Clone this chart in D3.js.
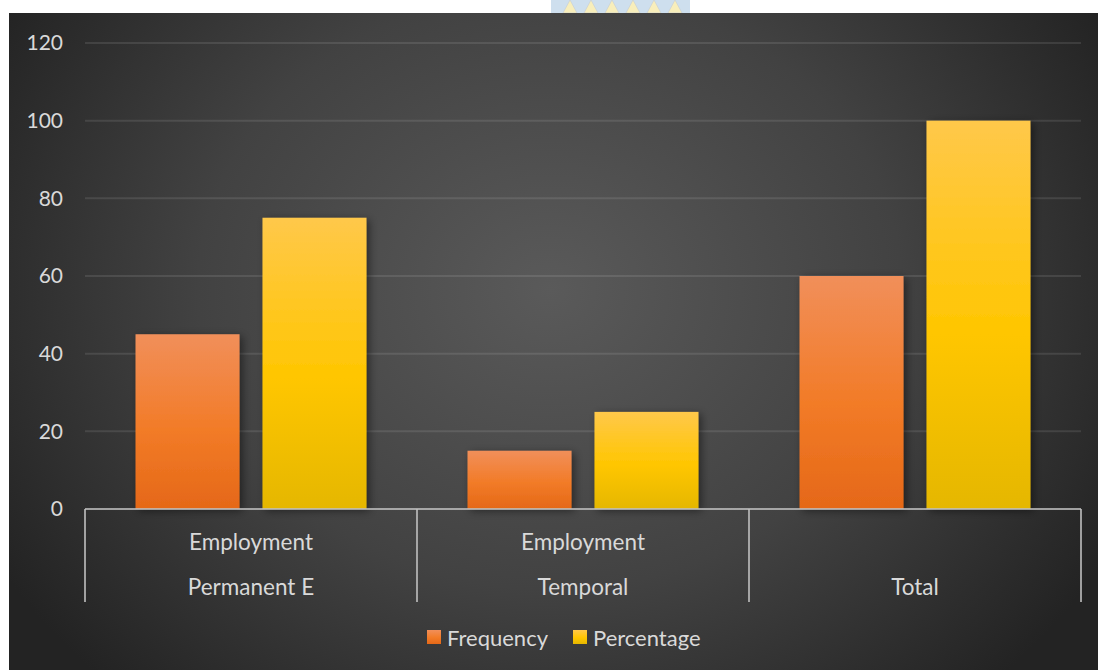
<!DOCTYPE html>
<html>
<head>
<meta charset="utf-8">
<script src="https://cdn.jsdelivr.net/npm/d3@7"></script>
<style>
  html, body { margin: 0; padding: 0; background: #ffffff; }
  svg { display: block; }
  text { font-family: Lato, "Open Sans", sans-serif; }
</style>
</head>
<body>
<div id="viz"></div>
<script>
const categories = ["Permanent E", "Temporal", "Total"];
const subLabels = ["Employment", "Employment", ""];
const seriesNames = ["Frequency", "Percentage"];
const frequency = [45, 15, 60];
const percentage = [75, 25, 100];
const yTicks = [0, 20, 40, 60, 80, 100, 120];

const width = 1098, height = 670;
const panel = { x: 9, y: 13, w: 1089, h: 657 };
const plot = { left: 85, right: 1081, top: 43, bottom: 509 };
const textColor = "#d9d9d9";

const svg = d3.select("#viz").append("svg")
  .attr("width", width)
  .attr("height", height);

const defs = svg.append("defs");

// panel background: dark with a lighter centre
const bg = defs.append("radialGradient")
  .attr("id", "bg")
  .attr("gradientUnits", "userSpaceOnUse")
  .attr("cx", 550).attr("cy", 290).attr("r", 640)
  .attr("gradientTransform", "translate(550,290) scale(1,0.85) translate(-550,-290)");
bg.append("stop").attr("offset", "0%").attr("stop-color", "#5a5a5a");
bg.append("stop").attr("offset", "55%").attr("stop-color", "#424242");
bg.append("stop").attr("offset", "100%").attr("stop-color", "#232323");

const palettes = {
  Frequency: ["#f18f5a", "#f27b27", "#e56818"],
  Percentage: ["#ffc84a", "#ffc600", "#e5b700"]
};
seriesNames.forEach((s, i) => {
  const g = defs.append("linearGradient")
    .attr("id", "grad" + i)
    .attr("x1", 0).attr("y1", 0).attr("x2", 0).attr("y2", 1);
  g.append("stop").attr("offset", "0%").attr("stop-color", palettes[s][0]);
  g.append("stop").attr("offset", "55%").attr("stop-color", palettes[s][1]);
  g.append("stop").attr("offset", "100%").attr("stop-color", palettes[s][2]);
});

const shadow = defs.append("filter")
  .attr("id", "shadow")
  .attr("x", "-20%").attr("y", "-20%").attr("width", "150%").attr("height", "150%");
shadow.append("feDropShadow")
  .attr("dx", 3).attr("dy", 2)
  .attr("stdDeviation", 4)
  .attr("flood-color", "#000")
  .attr("flood-opacity", 0.45);

// faint watermark peeking above the panel
const wm = svg.append("g").attr("opacity", 0.5);
wm.append("rect")
  .attr("x", 551).attr("y", 0).attr("width", 139).attr("height", panel.y)
  .attr("fill", "#9ec1de");
d3.range(6).forEach(i => {
  const cx = 570 + i * 21;
  wm.append("path")
    .attr("d", `M${cx - 7},${panel.y} L${cx},0 L${cx + 7},${panel.y} Z`)
    .attr("fill", "#f3df7a")
    .attr("stroke", "#8f9aa8")
    .attr("stroke-width", 0.6);
});

svg.append("rect")
  .attr("x", panel.x).attr("y", panel.y)
  .attr("width", panel.w).attr("height", panel.h)
  .attr("fill", "url(#bg)");

const y = d3.scaleLinear()
  .domain([0, 120])
  .range([plot.bottom, plot.top]);

const x0 = d3.scaleBand()
  .domain(categories)
  .range([plot.left, plot.right])
  .padding(0);

const x1 = d3.scaleBand()
  .domain(seriesNames)
  .range([0, x0.bandwidth()])
  .paddingInner(0.181)
  .paddingOuter(0.398);

// gridlines
svg.append("g")
  .selectAll("line")
  .data(yTicks.filter(d => d > 0))
  .join("line")
  .attr("x1", plot.left).attr("x2", plot.right)
  .attr("y1", d => y(d)).attr("y2", d => y(d))
  .attr("stroke", "#ffffff")
  .attr("stroke-opacity", 0.1)
  .attr("stroke-width", 2);

// y axis labels
const yAxis = svg.append("g")
  .attr("transform", "translate(63,0)")
  .call(d3.axisLeft(y).tickValues(yTicks).tickSize(0).tickPadding(0));
yAxis.select(".domain").remove();
yAxis.selectAll("text")
  .attr("fill", textColor)
  .style("font-size", "21px")
  .style("font-family", "Lato, sans-serif");

// bars
const rows = categories.map((c, i) => ({
  category: c,
  values: [frequency[i], percentage[i]]
}));

svg.append("g")
  .selectAll("g")
  .data(rows)
  .join("g")
  .attr("transform", d => `translate(${x0(d.category)},0)`)
  .selectAll("rect")
  .data(d => d.values.map((v, i) => ({ key: seriesNames[i], idx: i, value: v })))
  .join("rect")
  .attr("x", d => x1(d.key))
  .attr("y", d => y(d.value))
  .attr("width", x1.bandwidth())
  .attr("height", d => y(0) - y(d.value))
  .attr("fill", d => `url(#grad${d.idx})`)
  .attr("filter", "url(#shadow)");

// category axis (multi-level)
const axisColor = "#bfbfbf";
const xAxis = svg.append("g");
xAxis.append("line")
  .attr("x1", plot.left).attr("x2", plot.right)
  .attr("y1", y(0)).attr("y2", y(0))
  .attr("stroke", axisColor)
  .attr("stroke-opacity", 0.8)
  .attr("stroke-width", 2);

const bounds = categories.map(c => x0(c)).concat([x0(categories[categories.length - 1]) + x0.bandwidth()]);
xAxis.selectAll("line.tick")
  .data(bounds)
  .join("line")
  .attr("class", "tick")
  .attr("x1", d => d).attr("x2", d => d)
  .attr("y1", y(0)).attr("y2", 602)
  .attr("stroke", axisColor)
  .attr("stroke-opacity", 0.8)
  .attr("stroke-width", 2);

xAxis.selectAll("text.sub")
  .data(categories)
  .join("text")
  .attr("class", "sub")
  .attr("x", d => x0(d) + x0.bandwidth() / 2)
  .attr("y", 541)
  .attr("text-anchor", "middle")
  .attr("dominant-baseline", "central")
  .attr("fill", textColor)
  .style("font-size", "22.5px")
  .text((d, i) => subLabels[i]);

xAxis.selectAll("text.cat")
  .data(categories)
  .join("text")
  .attr("class", "cat")
  .attr("x", d => x0(d) + x0.bandwidth() / 2)
  .attr("y", 586)
  .attr("text-anchor", "middle")
  .attr("dominant-baseline", "central")
  .attr("fill", textColor)
  .style("font-size", "22.5px")
  .text(d => d);

// legend
const legendX = [427, 573];
const legend = svg.append("g")
  .selectAll("g")
  .data(seriesNames)
  .join("g")
  .attr("transform", (d, i) => `translate(${legendX[i]},630)`);
legend.append("rect")
  .attr("width", 14).attr("height", 14)
  .attr("fill", (d, i) => `url(#grad${i})`);
legend.append("text")
  .attr("x", 20).attr("y", 7)
  .attr("dominant-baseline", "central")
  .attr("fill", textColor)
  .style("font-size", "22px")
  .text(d => d);
</script>
</body>
</html>
